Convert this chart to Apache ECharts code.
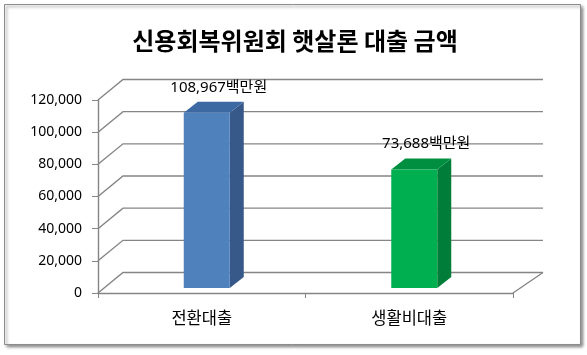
<!DOCTYPE html>
<html>
<head>
<meta charset="utf-8">
<script src="https://cdn.jsdelivr.net/npm/echarts@6/dist/echarts.min.js"></script>
<style>
  html, body { margin: 0; padding: 0; background: #fff; }
  #chart { width: 587px; height: 355px; }
</style>
</head>
<body>
<div id="chart"></div>
<script>
// 데이터
var categories = ['전환대출', '생활비대출'];
var amounts = [108967, 73688];
var yTicks = [0, 20000, 40000, 60000, 80000, 100000, 120000];
var barColors = [
  { front: '#4F81BD', side: '#36598A', top: '#3D69A3' },
  { front: '#00B050', side: '#007D39', top: '#008F41' }
];

var FONT = '"Noto Sans", "Noto Sans CJK KR", sans-serif';
// 3D 깊이 (픽셀)
var DXL = 25, DXR = 30, DY = -20.5;
var BAR_W = 46, BAR_DX = 14, BAR_DY = -11, FX = 5, FY = -5;

var myChart = echarts.init(document.getElementById('chart'));

// 벽 / 바닥 / 뒤쪽 눈금선
function renderWalls(params, api) {
  var v = api.value(1);
  var band = api.size([1, 0])[0];
  var p0 = api.coord([0, v]);
  var p1 = api.coord([categories.length - 1, v]);
  var x0 = p0[0] - band / 2, x1 = p1[0] + band / 2, y = p0[1];
  var st = { stroke: '#858585', lineWidth: 1.4, fill: null };
  var kids = [
    { type: 'polyline', shape: { points: [[x0, y], [x0 + DXL, y + DY], [x1 + DXR, y + DY]] }, style: st }
  ];
  if (v === 0) {
    kids.push({ type: 'line', shape: { x1: x1, y1: y, x2: x1 + DXR, y2: y + DY }, style: st });
  }
  return { type: 'group', children: kids };
}

// 3D 막대
function renderBar(params, api) {
  var i = api.value(0), v = api.value(1);
  var c = api.coord([i, v]);
  var c0 = api.coord([i, 0]);
  var col = barColors[i];
  var L = c[0] - BAR_W / 2 + FX;
  var R = L + BAR_W;
  var top = c[1] + FY, bot = c0[1] + FY;
  var label = echarts.format.addCommas(v) + '백만원';
  return {
    type: 'group',
    children: [
      { type: 'polygon', shape: { points: [[R, top], [R + BAR_DX, top + BAR_DY], [R + BAR_DX, bot + BAR_DY], [R, bot]] },
        style: { fill: col.side } },
      { type: 'polygon', shape: { points: [[L, top], [L + BAR_DX, top + BAR_DY], [R + BAR_DX, top + BAR_DY], [R, top]] },
        style: { fill: col.top } },
      { type: 'rect', shape: { x: L, y: top, width: BAR_W, height: bot - top },
        style: { fill: col.front } },
      { type: 'text', x: (L + R) / 2 + 12, y: top + BAR_DY - 7,
        style: { text: label, fill: '#000', font: '15px ' + FONT, align: 'center', verticalAlign: 'bottom' } }
    ]
  };
}

var option = {
  animation: false,
  backgroundColor: '#fff',
  title: {
    text: '신용회복위원회 햇살론 대출 금액',
    left: 290,
    textAlign: 'center',
    top: 24,
    textStyle: { fontSize: 24, fontWeight: 'bold', color: '#000', fontFamily: '"Noto Sans CJK KR", sans-serif' }
  },
  graphic: [{
    type: 'rect', left: 4, top: 4, z: -10,
    shape: { width: 576, height: 340 },
    style: { fill: '#fff', stroke: '#8c8c8c', lineWidth: 1, shadowBlur: 3, shadowOffsetX: 2, shadowOffsetY: 2, shadowColor: 'rgba(0,0,0,0.45)' }
  }],
  grid: { left: 98, right: 74, top: 100, bottom: 62 },
  xAxis: {
    type: 'category',
    data: categories,
    boundaryGap: true,
    axisLine: { lineStyle: { color: '#858585', width: 1.4 } },
    axisTick: { show: true, length: 5, lineStyle: { color: '#858585' } },
    axisLabel: { fontSize: 16.5, color: '#000', margin: 16, fontFamily: '"Noto Sans CJK KR", sans-serif' },
    splitLine: { show: false }
  },
  yAxis: {
    type: 'value',
    min: 0, max: 120000, interval: 20000,
    axisLine: { show: true, lineStyle: { color: '#858585', width: 1.4 } },
    axisTick: { show: true, length: 6, lineStyle: { color: '#858585' } },
    axisLabel: { fontSize: 14, color: '#000', margin: 16, fontFamily: FONT,
      formatter: function (v) { return echarts.format.addCommas(v); } },
    splitLine: { show: false }
  },
  series: [
    { type: 'custom', renderItem: renderWalls, silent: true, z: 1,
      data: yTicks.map(function (t) { return [0, t]; }) },
    { type: 'custom', renderItem: renderBar, z: 3,
      data: amounts.map(function (a, i) { return [i, a]; }) }
  ]
};
myChart.setOption(option);
</script>
</body>
</html>
